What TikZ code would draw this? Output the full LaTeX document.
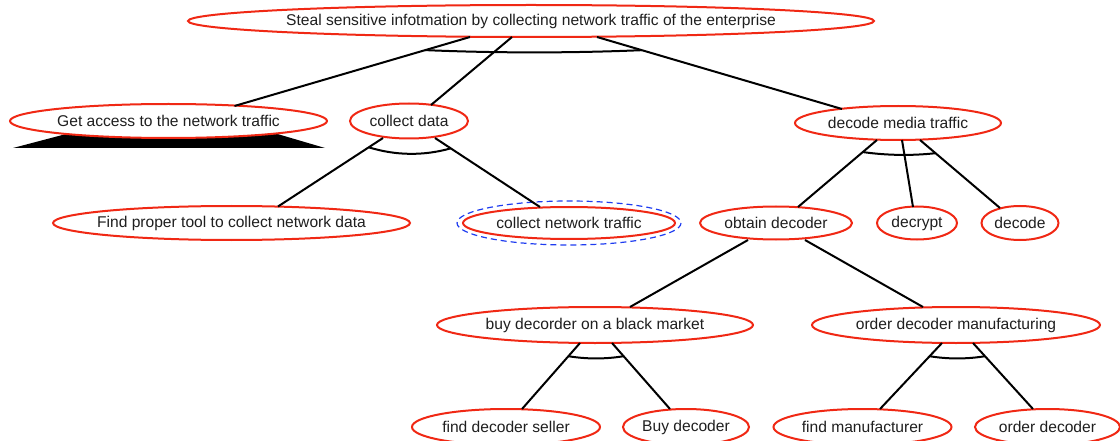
\documentclass[tikz,border=0pt]{standalone}
\usepackage{fontspec}
\setmainfont{Liberation Sans}
\usetikzlibrary{shapes.geometric,calc}
\definecolor{nodered}{RGB}{240,40,20}
\definecolor{selblue}{RGB}{30,60,240}
\newcommand\goaltext[1]{\makebox[0pt]{#1}}
\begin{document}
\begin{tikzpicture}[x=1pt,y=-1pt,
  goal/.style={ellipse, draw=nodered, line width=2pt, fill=white, inner sep=0pt,
    font=\fontsize{15.6}{18}\selectfont, text=black!88},
  link/.style={line width=2pt, black},
  andarc/.style={line width=2pt, black},
  selring/.style={draw=selblue, line width=1.2pt, dash pattern=on 6pt off 4pt}]
\useasboundingbox (0,0) rectangle (1120,441);
% shaded base under the leaf
\fill[black] (13,148) -- (325,148) -- (257,128) -- (89,128) -- cycle;
% nodes
\node[goal, minimum width=686pt, minimum height=32pt] (root) at (531,21)
  {\goaltext{Steal sensitive infotmation by collecting network traffic of the enterprise}};
\node[goal, minimum width=317pt, minimum height=34pt] (getaccess) at (168.5,121) {\goaltext{Get access to the network traffic}};
\node[goal, minimum width=118pt, minimum height=35pt] (collectdata) at (409,121) {\goaltext{collect data}};
\node[goal, minimum width=206pt, minimum height=34pt] (decode) at (898,123) {\goaltext{decode media traffic}};
\node[goal, minimum width=357pt, minimum height=34pt] (findtool) at (231.5,223) {\goaltext{Find proper tool to collect network data}};
\node[goal, minimum width=212pt, minimum height=32pt] (collectnet) at (569,223) {\goaltext{collect network traffic}};
\draw[selring] (collectnet) ellipse [x radius=112, y radius=22];
\node[goal, minimum width=152pt, minimum height=33pt] (obtain) at (776,223) {\goaltext{obtain decoder}};
\node[goal, minimum width=80pt, minimum height=33pt] (decrypt) at (917,223) {\goaltext{decrypt}};
\node[goal, minimum width=77pt, minimum height=34pt] (decodeleaf) at (1020,223) {\goaltext{decode}};
\node[goal, minimum width=316pt, minimum height=36pt] (buy) at (595,325) {\goaltext{buy decorder on a black market}};
\node[goal, minimum width=288pt, minimum height=36pt] (ordermanu) at (956,325) {\goaltext{order decoder manufacturing}};
\node[goal, minimum width=188pt, minimum height=36pt] (findseller) at (506,427) {\goaltext{find decoder seller}};
\node[goal, minimum width=126pt, minimum height=36pt] (buydecoder) at (686,427) {\goaltext{Buy decoder}};
\node[goal, minimum width=178pt, minimum height=36pt] (findmanu) at (862.5,427) {\goaltext{find manufacturer}};
\node[goal, minimum width=145pt, minimum height=36pt] (orderdecoder) at (1047.5,427) {\goaltext{order decoder}};
% connector end points
\coordinate (ra1) at ($(root)+(-61,16)$);   \coordinate (ra2) at ($(getaccess)+(66,-15)$);
\coordinate (rb1) at ($(root)+(-19,16)$);   \coordinate (rb2) at ($(collectdata)+(22,-16)$);
\coordinate (rc1) at ($(root)+(66,16)$);    \coordinate (rc2) at ($(decode)+(-56,-14)$);
\coordinate (ca1) at ($(collectdata)+(-26,17)$); \coordinate (ca2) at ($(findtool)+(46.5,-16.5)$);
\coordinate (cb1) at ($(collectdata)+(26,17)$);  \coordinate (cb2) at ($(collectnet)+(-29,-16)$);
\coordinate (da1) at ($(decode)+(-21,17)$); \coordinate (da2) at ($(obtain)+(22,-16)$);
\coordinate (db1) at ($(decode)+(4,17)$);   \coordinate (db2) at ($(decrypt)+(-4,-16)$);
\coordinate (dc1) at ($(decode)+(22,17)$);  \coordinate (dc2) at ($(decodeleaf)+(-20,-15)$);
\coordinate (oa1) at ($(obtain)+(-28,17)$); \coordinate (oa2) at ($(buy)+(35,-18)$);
\coordinate (ob1) at ($(obtain)+(29,17)$);  \coordinate (ob2) at ($(ordermanu)+(-33,-18)$);
\coordinate (ba1) at ($(buy)+(-15,18)$);    \coordinate (ba2) at ($(findseller)+(16,-18)$);
\coordinate (bb1) at ($(buy)+(17,18)$);     \coordinate (bb2) at ($(buydecoder)+(-16,-18)$);
\coordinate (ma1) at ($(ordermanu)+(-14,18)$); \coordinate (ma2) at ($(findmanu)+(17.5,-18)$);
\coordinate (mb1) at ($(ordermanu)+(17,18)$);  \coordinate (mb2) at ($(orderdecoder)+(-14.5,-18)$);
% connectors
\foreach \e in {ra,rb,rc,ca,cb,da,db,dc,oa,ob,ba,bb,ma,mb}
  \draw[link] (\e1) -- (\e2);
% AND arcs
\coordinate (rL) at ($(ra1)!0.19!(ra2)$);  \coordinate (rR) at ($(rc1)!0.183!(rc2)$);
\draw[andarc] (rL) .. controls ($(rL)!0.33!(rR)+(0,3)$) and ($(rL)!0.67!(rR)+(0,3)$) .. (rR);
\coordinate (cL) at ($(ca1)!0.136!(ca2)$); \coordinate (cR) at ($(cb1)!0.15!(cb2)$);
\draw[andarc] (cL) .. controls ($(cL)!0.33!(cR)+(0,8)$) and ($(cL)!0.67!(cR)+(0,8)$) .. (cR);
\coordinate (dL) at ($(da1)!0.18!(da2)$);  \coordinate (dR) at ($(dc1)!0.194!(dc2)$);
\draw[andarc] (dL) .. controls ($(dL)!0.33!(dR)+(0,3)$) and ($(dL)!0.67!(dR)+(0,3)$) .. (dR);
\coordinate (bL) at ($(ba1)!0.2!(ba2)$);   \coordinate (bR) at ($(bb1)!0.2!(bb2)$);
\draw[andarc] (bL) .. controls ($(bL)!0.33!(bR)+(0,3)$) and ($(bL)!0.67!(bR)+(0,3)$) .. (bR);
\coordinate (mL) at ($(ma1)!0.2!(ma2)$);   \coordinate (mR) at ($(mb1)!0.2!(mb2)$);
\draw[andarc] (mL) .. controls ($(mL)!0.33!(mR)+(0,3)$) and ($(mL)!0.67!(mR)+(0,3)$) .. (mR);
\end{tikzpicture}
\end{document}
